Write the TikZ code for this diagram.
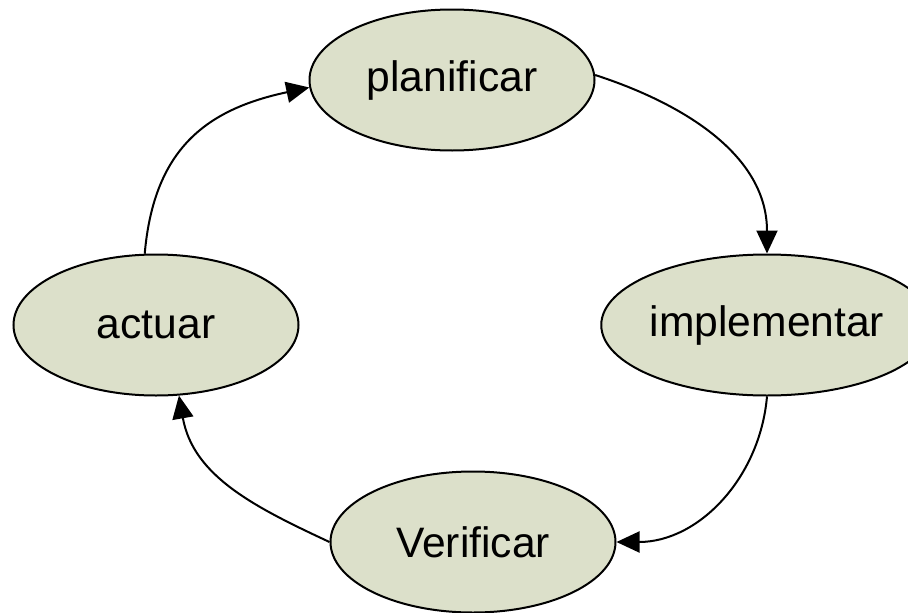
\documentclass[tikz,border=0pt]{standalone}
\usepackage{fontspec}
\setmainfont{Liberation Sans}
\usetikzlibrary{shapes.geometric,arrows.meta}
\definecolor{phasefill}{RGB}{220,224,202}
\tikzset{
  phase/.style={ellipse, draw=black, line width=2pt, fill=phasefill,
    minimum width=285pt, minimum height=141pt, inner sep=0pt,
    font=\fontsize{42.6}{50}\selectfont},
  flow/.style={line width=2pt, -{Triangle[length=23pt,width=21pt]}}
}
\begin{document}
\begin{tikzpicture}[x=1pt,y=-1pt]
  \useasboundingbox (0,0) rectangle (908,613);
  \node[phase] (plan) at (452,80)  {planificar};
  \node[phase] (impl) at (767,325) {implementar};
  \node[phase] (verif) at (473,542) {Verificar};
  \node[phase] (act)  at (156,325) {actuar};
  \draw[flow] (plan.2) to[out=-18,in=90] (impl.north);
  \draw[flow] (impl.south) to[out=-95,in=0] (verif.east);
  \draw[flow] (verif.west) to[out=155,in=-80] (act.-72);
  \draw[flow] (act.99) to[out=85,in=192,looseness=1.15] (plan.183);
\end{tikzpicture}
\end{document}
